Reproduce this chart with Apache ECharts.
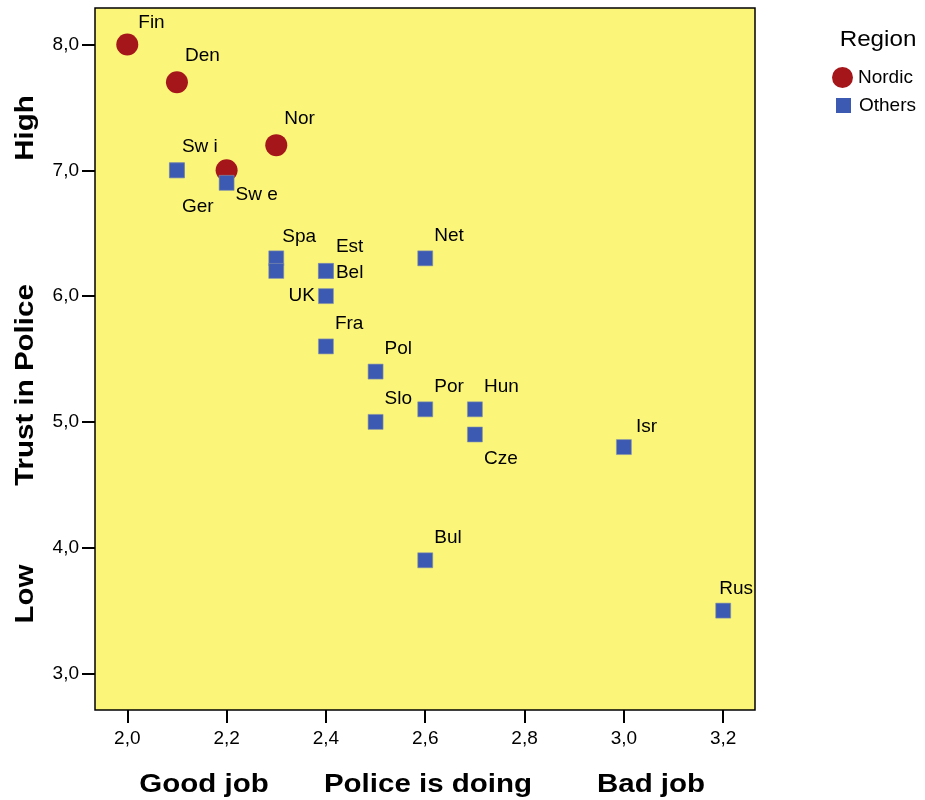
<!DOCTYPE html>
<html>
<head>
<meta charset="utf-8">
<script src="https://cdn.jsdelivr.net/npm/echarts@6/dist/echarts.min.js"></script>
<style>
  html, body { margin: 0; padding: 0; background: #fff; }
  #chart { width: 925px; height: 800px; }
</style>
</head>
<body>
<div id="chart"></div>
<script>
// Nordic countries (circles)
const nordicNames = ['Fin', 'Den', 'Nor', ''];
const nordicX = [2.0, 2.1, 2.3, 2.2];
const nordicY = [8.0, 7.7, 7.2, 7.0];

// other countries (squares)
const otherNames = ['Sw i', 'Ger', 'Sw e', 'Spa', '', 'Est', 'Bel', 'UK', 'Fra', 'Net', 'Pol', 'Slo', 'Por', 'Hun', 'Cze', 'Isr', 'Bul', 'Rus'];
const otherX = [2.1, 2.1, 2.2, 2.3, 2.3, 2.4, 2.4, 2.4, 2.4, 2.6, 2.5, 2.5, 2.6, 2.7, 2.7, 3.0, 2.6, 3.2];
const otherY = [7.0, 7.0, 6.9, 6.3, 6.2, 6.2, 6.2, 6.0, 5.6, 6.3, 5.4, 5.0, 5.1, 5.1, 4.9, 4.8, 3.9, 3.5];

const xTicks = [2.0, 2.2, 2.4, 2.6, 2.8, 3.0, 3.2];
const yTicks = [3, 4, 5, 6, 7, 8];

// label placement (offset of text from the point centre)
const defaultOffset = [9, -23];
const labelOffset = {
  'Den': [8, -26], 'Nor': [8, -26], 'Fin': [11, -22],
  'Sw i': [5, -24], 'Ger': [5, 36], 'Sw e': [9, 12],
  'Bel': [10, 2], 'Est': [10, -24], 'Cze': [9, 24],
  'Rus': [-4, -22], 'Isr': [12, -20], 'Spa': [6, -22]
};

const fmt = (v) => v.toFixed(1).replace('.', ',');

const toData = (names, xs, ys) => names.map((n, i) => {
  const d = { name: n, value: [xs[i], ys[i]] };
  if (n === 'UK') {
    d.label = { align: 'right', offset: [-11, 0] };
  } else {
    d.label = { offset: labelOffset[n] || defaultOffset };
  }
  return d;
});

const baseLabel = {
  show: true,
  position: ['50%', '50%'],
  align: 'left',
  verticalAlign: 'middle',
  formatter: (p) => p.name,
  color: '#000',
  fontFamily: 'Liberation Sans',
  fontSize: 19
};

const titleText = (txt, x, y, rot) => ({
  type: 'text',
  x, y,
  rotation: rot,
  scaleX: 1.18,
  style: {
    x: 0, y: 0,
    text: txt,
    textAlign: 'center',
    textVerticalAlign: 'middle',
    fontFamily: 'Liberation Sans',
    fontWeight: 'bold',
    fontSize: 25,
    fill: '#000'
  }
});

const chart = echarts.init(document.getElementById('chart'), null, { renderer: 'canvas' });

chart.setOption({
  animation: false,
  grid: {
    left: 95, right: 170, top: 8, bottom: 90,
    show: true,
    backgroundColor: '#FBF679',
    borderColor: '#000',
    borderWidth: 1.5
  },
  xAxis: {
    type: 'value',
    min: 1.935,
    max: 3.264,
    axisLine: { show: false },
    splitLine: { show: false },
    axisTick: { show: true, length: 13, lineStyle: { color: '#000', width: 2 }, customValues: xTicks },
    axisLabel: {
      customValues: xTicks,
      formatter: fmt,
      color: '#000',
      fontFamily: 'Liberation Sans',
      fontSize: 19,
      margin: 19
    }
  },
  yAxis: {
    type: 'value',
    min: 2.71,
    max: 8.29,
    axisLine: { show: false },
    splitLine: { show: false },
    axisTick: { show: true, length: 13, lineStyle: { color: '#000', width: 2 }, customValues: yTicks },
    axisLabel: {
      customValues: yTicks,
      formatter: fmt,
      color: '#000',
      fontFamily: 'Liberation Sans',
      fontSize: 19,
      margin: 16
    }
  },
  legend: [
    {
      orient: 'vertical',
      left: 832, top: 67,
      padding: 0,
      itemWidth: 21, itemHeight: 21,
      itemGap: 5,
      selectedMode: false,
      data: [{ name: 'Nordic', icon: 'circle' }],
      textStyle: { color: '#000', fontFamily: 'Liberation Sans', fontSize: 19 }
    },
    {
      orient: 'vertical',
      left: 836, top: 96,
      padding: 0,
      itemWidth: 15, itemHeight: 15,
      selectedMode: false,
      itemStyle: { borderWidth: 0 },
      data: [{ name: 'Others', icon: 'rect' }],
      textStyle: { color: '#000', fontFamily: 'Liberation Sans', fontSize: 19, padding: [0, 0, 0, 3] }
    }
  ],
  graphic: [
    { type: 'text', x: 878, y: 40, scaleX: 1.1, style: { x: 0, y: 0, text: 'Region', textAlign: 'center', textVerticalAlign: 'middle', fontFamily: 'Liberation Sans', fontSize: 22, fill: '#000' } },
    titleText('Trust in Police', 26, 385, Math.PI / 2),
    titleText('High', 26, 128, Math.PI / 2),
    titleText('Low', 26, 594, Math.PI / 2),
    titleText('Good job', 204, 785, 0),
    titleText('Police is doing', 428, 785, 0),
    titleText('Bad job', 651, 785, 0)
  ],
  series: [
    {
      name: 'Nordic',
      type: 'scatter',
      symbol: 'circle',
      symbolSize: 22,
      itemStyle: { color: '#A5161B', opacity: 1 },
      label: baseLabel,
      data: toData(nordicNames, nordicX, nordicY)
    },
    {
      name: 'Others',
      type: 'scatter',
      symbol: 'rect',
      symbolSize: 15,
      itemStyle: { color: '#3D5AB3', opacity: 1, borderColor: '#8A96A8', borderWidth: 0.6 },
      label: baseLabel,
      data: toData(otherNames, otherX, otherY)
    }
  ]
});
</script>
</body>
</html>
